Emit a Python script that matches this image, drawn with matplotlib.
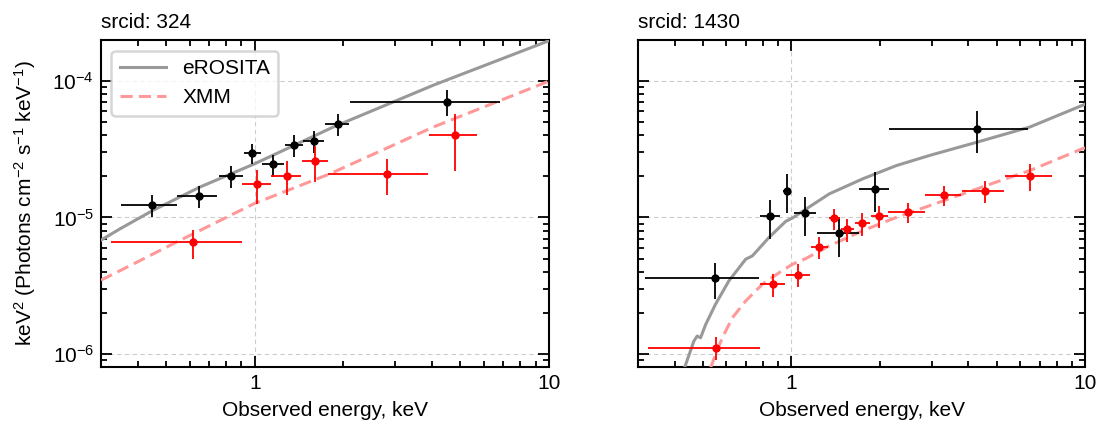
import numpy as np
import matplotlib
matplotlib.use("Agg")
import matplotlib.pyplot as plt
from matplotlib.ticker import LogLocator, NullFormatter, FixedLocator, FixedFormatter

plt.rcParams["font.family"] = ["Liberation Sans", "DejaVu Sans"]
plt.rcParams["mathtext.fontset"] = "custom"
plt.rcParams["mathtext.rm"] = "Liberation Sans"
plt.rcParams["mathtext.it"] = "Liberation Sans:italic"

FS = 15

# ----------------------------------------------------------------------
# srcid 324 — data points (energy, bin edges, flux, flux error bounds)
# ----------------------------------------------------------------------
ero_e_324 = [0.448, 0.646, 0.833, 0.982, 1.155, 1.354, 1.589, 1.914, 4.50]
ero_elo_324 = [0.352, 0.546, 0.754, 0.920, 1.056, 1.269, 1.462, 1.738, 2.11]
ero_ehi_324 = [0.544, 0.744, 0.912, 1.051, 1.256, 1.457, 1.719, 2.097, 6.84]
ero_f_324 = [1.24e-5, 1.43e-5, 2.02e-5, 2.97e-5, 2.45e-5, 3.38e-5, 3.64e-5, 4.88e-5, 7.08e-5]
ero_flo_324 = [1.00e-5, 1.17e-5, 1.65e-5, 2.45e-5, 1.98e-5, 2.77e-5, 2.97e-5, 3.98e-5, 5.52e-5]
ero_fhi_324 = [1.46e-5, 1.69e-5, 2.38e-5, 3.47e-5, 2.88e-5, 4.05e-5, 4.28e-5, 5.78e-5, 8.59e-5]

xmm_e_324 = [0.615, 1.021, 1.285, 1.606, 2.818, 4.78]
xmm_elo_324 = [0.325, 0.905, 1.137, 1.443, 1.778, 3.90]
xmm_ehi_324 = [0.903, 1.134, 1.439, 1.769, 3.88, 5.70]
xmm_f_324 = [6.59e-6, 1.75e-5, 2.03e-5, 2.58e-5, 2.08e-5, 4.00e-5]
xmm_flo_324 = [5.00e-6, 1.26e-5, 1.46e-5, 1.82e-5, 1.46e-5, 2.21e-5]
xmm_fhi_324 = [8.13e-6, 2.24e-5, 2.58e-5, 3.34e-5, 2.70e-5, 5.78e-5]

# model curves
ero_model_e_324 = [0.30, 0.347, 0.448, 0.650, 1.0, 1.849, 4.05, 10.0]
ero_model_f_324 = [6.82e-6, 8.22e-6, 1.12e-5, 1.67e-5, 2.48e-5, 4.61e-5, 9.35e-5, 1.98e-4]
xmm_model_e_324 = [0.30, 0.385, 0.541, 1.0, 1.80, 4.05, 10.0]
xmm_model_f_324 = [3.47e-6, 4.54e-6, 6.59e-6, 1.27e-5, 2.09e-5, 4.61e-5, 1.0e-4]

# ----------------------------------------------------------------------
# srcid 1430
# ----------------------------------------------------------------------
ero_e_1430 = [0.548, 0.846, 0.967, 1.11, 1.455, 1.921, 4.29]
ero_elo_1430 = [0.316, 0.782, 0.939, 1.016, 1.217, 1.703, 2.145]
ero_ehi_1430 = [0.775, 0.912, 1.0, 1.211, 1.694, 2.145, 6.40]
ero_f_1430 = [3.58e-6, 1.02e-5, 1.57e-5, 1.07e-5, 7.69e-6, 1.63e-5, 4.48e-5]
ero_flo_1430 = [2.51e-6, 6.94e-6, 1.07e-5, 7.35e-6, 5.17e-6, 1.09e-5, 2.96e-5]
ero_fhi_1430 = [4.62e-6, 1.35e-5, 2.07e-5, 1.41e-5, 1.00e-5, 2.15e-5, 6.01e-5]

xmm_e_1430 = [0.551, 0.866, 1.054, 1.240, 1.399, 1.549, 1.744, 1.988, 2.49, 3.32, 4.55, 6.49]
xmm_elo_1430 = [0.325, 0.782, 0.956, 1.164, 1.338, 1.474, 1.646, 1.862, 2.14, 2.855, 3.82, 5.33]
xmm_ehi_1430 = [0.779, 0.951, 1.152, 1.327, 1.467, 1.629, 1.852, 2.128, 2.84, 3.79, 5.29, 7.69]
xmm_f_1430 = [1.11e-6, 3.24e-6, 3.81e-6, 6.03e-6, 9.86e-6, 8.18e-6, 9.06e-6, 1.02e-5, 1.09e-5, 1.46e-5, 1.56e-5, 2.03e-5]
xmm_flo_1430 = [9.08e-7, 2.63e-6, 3.09e-6, 4.94e-6, 8.09e-6, 6.56e-6, 7.35e-6, 8.32e-6, 9.06e-6, 1.21e-5, 1.27e-5, 1.57e-5]
xmm_fhi_1430 = [1.32e-6, 3.84e-6, 4.54e-6, 7.15e-6, 1.15e-5, 9.75e-6, 1.07e-5, 1.21e-5, 1.28e-5, 1.71e-5, 1.84e-5, 2.48e-5]

ero_model_e_1430 = [0.424, 0.465, 0.477, 0.490, 0.510, 0.551, 0.612, 0.698, 0.736, 0.839, 0.956,
                    1.008, 1.119, 1.345, 1.748, 2.273, 2.953, 4.29, 6.49, 10.0]
ero_model_f_1430 = [7.03e-7, 1.24e-6, 1.35e-6, 1.31e-6, 1.64e-6, 2.31e-6, 3.43e-6, 4.94e-6, 5.23e-6,
                    7.15e-6, 9.37e-6, 9.91e-6, 1.15e-5, 1.49e-5, 1.92e-5, 2.40e-5, 2.85e-5, 3.57e-5,
                    4.61e-5, 6.77e-5]
xmm_model_e_1430 = [0.530, 0.551, 0.581, 0.629, 0.698, 0.796, 0.908, 1.008, 1.119, 1.345, 1.748,
                    2.273, 2.953, 3.84, 4.99, 6.49, 10.0]
xmm_model_f_1430 = [7.87e-7, 9.89e-7, 1.31e-6, 1.84e-6, 2.44e-6, 3.24e-6, 3.94e-6, 4.54e-6, 5.00e-6,
                    6.19e-6, 8.00e-6, 1.0e-5, 1.22e-5, 1.49e-5, 1.82e-5, 2.21e-5, 3.25e-5]

SOURCES = [
    ("srcid: 324",
     (ero_e_324, ero_elo_324, ero_ehi_324, ero_f_324, ero_flo_324, ero_fhi_324),
     (xmm_e_324, xmm_elo_324, xmm_ehi_324, xmm_f_324, xmm_flo_324, xmm_fhi_324),
     (ero_model_e_324, ero_model_f_324), (xmm_model_e_324, xmm_model_f_324)),
    ("srcid: 1430",
     (ero_e_1430, ero_elo_1430, ero_ehi_1430, ero_f_1430, ero_flo_1430, ero_fhi_1430),
     (xmm_e_1430, xmm_elo_1430, xmm_ehi_1430, xmm_f_1430, xmm_flo_1430, xmm_fhi_1430),
     (ero_model_e_1430, ero_model_f_1430), (xmm_model_e_1430, xmm_model_f_1430)),
]


def draw_points(ax, pts, color):
    e, elo, ehi, f, flo, fhi = (np.asarray(a) for a in pts)
    ax.errorbar(e, f, xerr=[e - elo, ehi - e], yerr=[f - flo, fhi - f],
                fmt="o", color=color, ms=5, elinewidth=1.3, capsize=0, zorder=4)


fig = plt.figure(figsize=(11.05, 4.29), dpi=100)
ax_l = fig.add_axes([0.0914, 0.1445, 0.4054, 0.762])
ax_r = fig.add_axes([0.5774, 0.1445, 0.4045, 0.762])

for ax, (title, ero, xmm, ero_m, xmm_m) in zip([ax_l, ax_r], SOURCES):
    ax.set_xscale("log")
    ax.set_yscale("log")
    ax.plot(ero_m[0], ero_m[1], color="#999999", lw=2.2, label="eROSITA", zorder=3)
    ax.plot(xmm_m[0], xmm_m[1], color="#ff9999", lw=2.2, ls=(0, (4, 2)), label="XMM", zorder=3)
    draw_points(ax, ero, "black")
    draw_points(ax, xmm, "red")

    ax.set_xlim(0.3, 10)
    ax.set_ylim(8e-7, 2e-4)
    ax.xaxis.set_major_locator(FixedLocator([1, 10]))
    ax.xaxis.set_major_formatter(FixedFormatter(["1", "10"]))
    ax.xaxis.set_minor_locator(LogLocator(base=10, subs=np.arange(2, 10)))
    ax.xaxis.set_minor_formatter(NullFormatter())
    ax.yaxis.set_major_locator(LogLocator(base=10, numticks=10))
    ax.yaxis.set_minor_locator(LogLocator(base=10, subs=np.arange(2, 10), numticks=10))
    ax.yaxis.set_minor_formatter(NullFormatter())
    ax.tick_params(which="both", direction="in", top=True, right=True, labelsize=FS, width=1.3)
    ax.tick_params(which="major", length=8, pad=5)
    ax.tick_params(which="minor", length=4.5)
    ax.grid(True, which="major", ls=(0, (4, 3)), color="#cccccc", lw=0.8)
    for s in ax.spines.values():
        s.set_linewidth(1.5)
    ax.set_xlabel("Observed energy, keV", fontsize=FS, labelpad=6)
    ax.set_title(title, loc="left", fontsize=FS, pad=9)

ax_r.tick_params(labelleft=False)
ax_l.set_ylabel("keV$^2$ (Photons cm$^{-2}$ s$^{-1}$ keV$^{-1}$)", fontsize=FS, labelpad=10)
leg = ax_l.legend(loc="upper left", fontsize=FS, frameon=True, fancybox=True,
                  handlelength=2.2, handletextpad=0.8, borderpad=0.4, labelspacing=0.5)
leg.get_frame().set_edgecolor("#cccccc")
leg.get_frame().set_linewidth(1.8)

fig.savefig("out.png", dpi=100)
